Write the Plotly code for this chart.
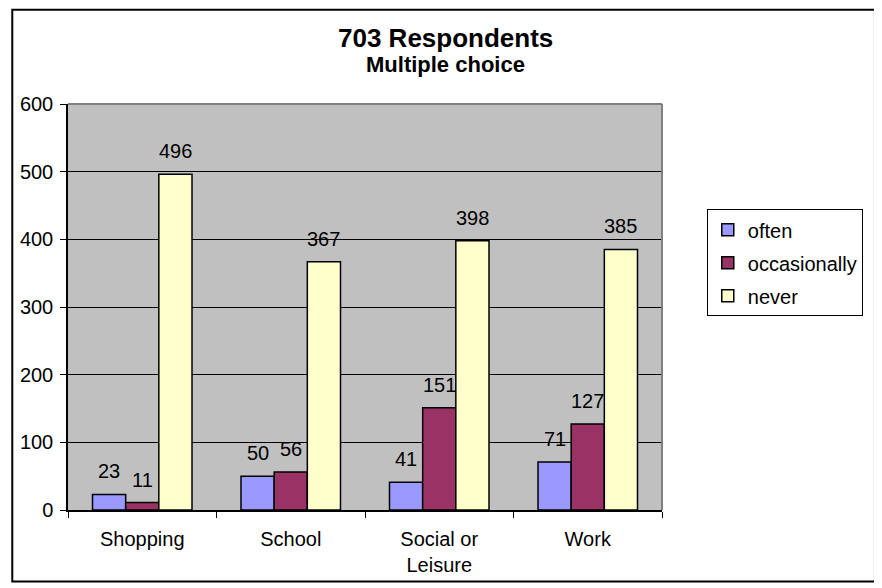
import plotly.graph_objects as go

categories = ["Shopping", "School", "Social or<br>Leisure", "Work"]
series_names = ["often", "occasionally", "never"]
often = [23, 50, 41, 71]
occasionally = [11, 56, 151, 127]
never = [496, 367, 398, 385]
colors = ["#9999FF", "#993366", "#FFFFCC"]
y_ticks = [0, 100, 200, 300, 400, 500, 600]
title_main = "703 Respondents"
title_sub = "Multiple choice"

FONT = "Arial, Liberation Sans, sans-serif"
BARGAP = 0.33
OFF = 8  # page body margin offset

series = [often, occasionally, never]
fig = go.Figure()
for j, (name, vals, col) in enumerate(zip(series_names, series, colors)):
    fig.add_trace(go.Bar(
        name=name, x=categories, y=vals,
        marker=dict(color=col, line=dict(color="#000000", width=1.5)),
        legendgroup=name,
    ))

w = (1 - BARGAP) / 3
for j, vals in enumerate(series):
    for i, v in enumerate(vals):
        fig.add_annotation(
            x=i + (j - 1) * w, y=v, xref="x", yref="y",
            text=str(v), showarrow=False, yanchor="middle", yshift=23,
            font=dict(family=FONT, size=20, color="#000000"),
        )

W, H = 882 - OFF, 588 - OFF
L, T = 65 - OFF, 104 - OFF
R = W - (662 - OFF)
B = H - (513 - OFF)
pw, ph = W - L - R, H - T - B

def px(x):
    return (x - OFF - L) / pw

def py(y):
    return (H - B - (y - OFF)) / ph

fig.add_annotation(x=px(444), y=py(38), xref="paper", yref="paper", text="<b>" + title_main + "</b>",
                   showarrow=False, font=dict(family=FONT, size=26, color="#000"), xanchor="center", yanchor="middle")
fig.add_annotation(x=px(444), y=py(64), xref="paper", yref="paper", text="<b>" + title_sub + "</b>",
                   showarrow=False, font=dict(family=FONT, size=22, color="#000"), xanchor="center", yanchor="middle")

fig.add_shape(type="rect", xref="paper", yref="paper",
              x0=px(9), x1=px(876), y0=py(585), y1=py(9),
              line=dict(color="#000000", width=2), fillcolor="rgba(0,0,0,0)", layer="below")
fig.add_shape(type="line", xref="paper", yref="paper", x0=0, x1=1, y0=1, y1=1,
              line=dict(color="#808080", width=2))
fig.add_shape(type="line", xref="paper", yref="paper", x0=1, x1=1, y0=0, y1=1,
              line=dict(color="#808080", width=2))

fig.update_layout(
    width=W, height=H,
    margin=dict(l=L, r=R, t=T, b=B),
    paper_bgcolor="#FFFFFF",
    plot_bgcolor="#C0C0C0",
    barmode="group",
    bargap=BARGAP,
    bargroupgap=0,
    font=dict(family=FONT, size=20, color="#000000"),
    showlegend=True,
    legend=dict(
        x=px(707), y=py(210), xanchor="left", yanchor="top",
        bgcolor="#FFFFFF", bordercolor="#000000", borderwidth=1,
        font=dict(family=FONT, size=20, color="#000"),
        tracegroupgap=4,
    ),
)
fig.update_xaxes(
    type="category", showline=True, linecolor="#000000", linewidth=1.5,
    ticks="outside", tickson="boundaries", ticklen=6, tickcolor="#000000",
    showgrid=False, tickfont=dict(family=FONT, size=20), ticklabelstandoff=10,
)
fig.update_yaxes(
    range=[0, 600], tickvals=y_ticks, showline=True, linecolor="#000000", linewidth=1.5,
    ticks="outside", ticklen=6, tickcolor="#000000",
    showgrid=True, gridcolor="#000000", gridwidth=1, zeroline=False,
    tickfont=dict(family=FONT, size=20), ticklabelstandoff=3,
)

fig.write_html("out.html")
